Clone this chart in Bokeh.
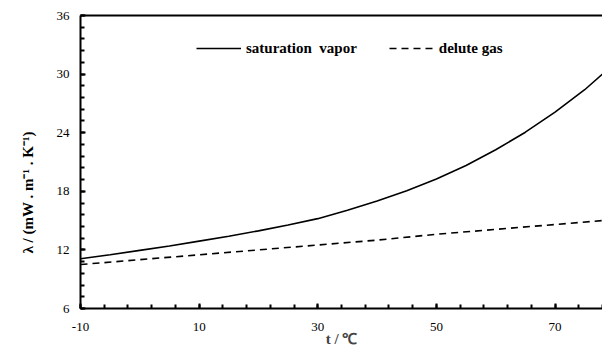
import math
from bokeh.plotting import figure
from bokeh.models import Range1d, Legend, LegendItem, Title, LinearAxis, FixedTicker
from bokeh.embed import file_html
from bokeh.resources import INLINE

# data
t_sat = [-10, -5, 0, 5, 10, 15, 20, 25, 30, 35, 40, 45, 50, 55, 60, 65, 70, 75, 78]
lam_sat = [11.1, 11.5, 11.95, 12.4, 12.9, 13.4, 13.95, 14.55, 15.2, 16.05, 17.0, 18.05,
           19.25, 20.65, 22.25, 24.05, 26.1, 28.4, 30.0]
t_gas = [-10, 0, 10, 20, 30, 40, 50, 60, 70, 78]
lam_gas = [10.5, 11.0, 11.5, 12.0, 12.5, 13.0, 13.6, 14.1, 14.6, 15.0]
x_ticks = [-10, 10, 30, 50, 70]
y_ticks = [6, 12, 18, 24, 30, 36]

FONT = "Liberation Serif"

p = figure(width=602, height=349, output_backend="svg", toolbar_location=None,
           x_range=Range1d(-10, 78), y_range=Range1d(6, 36),
           min_border_left=79, min_border_right=0, min_border_top=15, min_border_bottom=41)
p.outline_line_color = None
p.grid.visible = False
p.background_fill_color = "white"
p.border_fill_color = "white"

r1 = p.line(t_sat, lam_sat, line_color="black", line_width=1.6)
r2 = p.line(t_gas, lam_gas, line_color="black", line_width=1.6, line_dash="7 5")

xminor = [x_ticks[0] + i * 4 for i in range(0, 23)]
yminor = [6 + i * 1.2 for i in range(0, 26)]

for ax, ticks, minor in ((p.xaxis[0], x_ticks, xminor), (p.yaxis[0], y_ticks, yminor)):
    ax.ticker = FixedTicker(ticks=ticks, minor_ticks=minor)
    ax.axis_line_width = 2
    ax.axis_line_color = "black"
    ax.major_tick_in = 5
    ax.major_tick_out = 0
    ax.minor_tick_in = 4
    ax.minor_tick_out = 0
    ax.major_tick_line_width = 2
    ax.minor_tick_line_width = 2
    ax.major_tick_line_color = "black"
    ax.minor_tick_line_color = "black"
    ax.major_label_text_font = FONT
    ax.major_label_text_font_size = "13px"
    ax.major_label_text_color = "black"
    ax.major_label_overrides = {t: str(t) for t in ticks}

p.xaxis[0].major_label_standoff = 14
p.yaxis[0].major_label_standoff = 11

p.xaxis[0].axis_label = "t / \u2103"
p.xaxis[0].axis_label_text_font = FONT
p.xaxis[0].axis_label_text_font_style = "bold"
p.xaxis[0].axis_label_text_font_size = "15px"
p.xaxis[0].axis_label_standoff = -3

# top frame line
top = LinearAxis(ticker=FixedTicker(ticks=[]), major_label_text_font_size="0px",
                 axis_line_width=2, major_tick_in=0, major_tick_out=0,
                 minor_tick_in=0, minor_tick_out=0)
p.add_layout(top, "above")

ylab = Title(text="\u03bb / (mW . m\u207b\u00b9 . K\u207b\u00b9)", align="left", offset=55,
             text_font=FONT, text_font_style="bold", text_font_size="15px",
             text_color="black", standoff=35)
p.add_layout(ylab, "left")

legend = Legend(items=[LegendItem(label="saturation  vapor", renderers=[r1]),
                       LegendItem(label="delute gas", renderers=[r2])],
                orientation="horizontal", location=(116, 250),
                padding=0, margin=0, spacing=32, glyph_width=45, label_standoff=5,
                border_line_color=None, background_fill_alpha=0,
                label_text_font=FONT, label_text_font_style="bold",
                label_text_font_size="15px", label_text_color="black")
p.add_layout(legend)

open("out.html", "w").write(file_html(p, INLINE))
